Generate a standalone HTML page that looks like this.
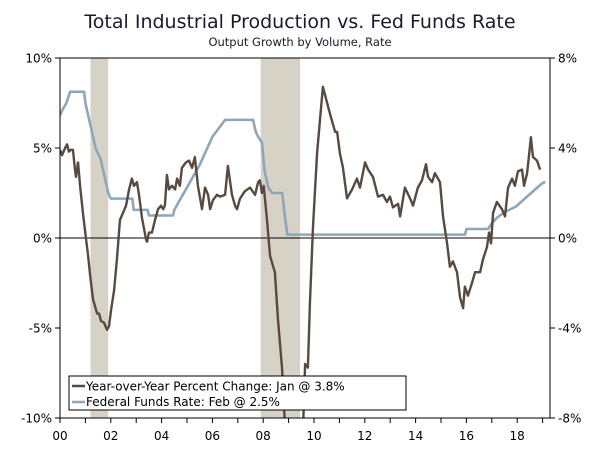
<!DOCTYPE html>
<html><head><meta charset="utf-8"><style>
body{margin:0;background:#fff;}
svg{display:block;font-family:"DejaVu Sans","Liberation Sans",sans-serif;}
</style></head><body>
<svg id="chart" width="600" height="453" viewBox="0 0 600 453">
<text x="300" y="28" text-anchor="middle" font-size="19" fill="#1a1a2e">Total Industrial Production vs. Fed Funds Rate</text>
<text x="300" y="46" text-anchor="middle" font-size="11.5" fill="#1a1a2e">Output Growth by Volume, Rate</text>
<g id="plot"></g>
</svg>
<script>
const recessions = [[2001.2, 2001.9], [2007.9, 2009.45]];
const ipYears = [2000.00,2000.08,2000.20,2000.28,2000.35,2000.43,2000.51,2000.59,2000.63,2000.71,2000.79,2000.91,2001.02,2001.10,2001.18,2001.30,2001.46,2001.54,2001.61,2001.73,2001.85,2001.93,2002.01,2002.13,2002.24,2002.36,2002.48,2002.60,2002.72,2002.83,2002.91,2003.03,2003.11,2003.23,2003.39,2003.43,2003.50,2003.62,2003.74,2003.86,2003.98,2004.06,2004.13,2004.21,2004.29,2004.41,2004.53,2004.61,2004.72,2004.80,2004.96,2005.08,2005.20,2005.31,2005.43,2005.59,2005.71,2005.83,2005.91,2006.02,2006.18,2006.30,2006.50,2006.61,2006.77,2006.89,2006.97,2007.09,2007.28,2007.48,2007.68,2007.80,2007.87,2007.95,2008.02,2008.15,2008.27,2008.46,2008.58,2008.74,2008.86,2009.06,2009.33,2009.57,2009.65,2009.76,2009.84,2009.96,2010.12,2010.35,2010.63,2010.83,2010.91,2011.02,2011.14,2011.30,2011.50,2011.69,2011.81,2012.01,2012.13,2012.32,2012.52,2012.72,2012.87,2012.99,2013.11,2013.31,2013.39,2013.58,2013.78,2013.90,2014.09,2014.25,2014.41,2014.49,2014.65,2014.76,2014.96,2015.08,2015.24,2015.35,2015.47,2015.63,2015.75,2015.87,2015.94,2016.06,2016.22,2016.34,2016.54,2016.65,2016.81,2016.89,2016.97,2017.05,2017.20,2017.40,2017.52,2017.64,2017.80,2017.91,2018.03,2018.19,2018.27,2018.39,2018.54,2018.62,2018.78,2018.90];
const ipValues = [4.9,4.6,5.0,5.2,4.8,4.9,4.9,3.8,3.4,4.2,2.9,1.3,0.0,-0.9,-2.0,-3.4,-4.2,-4.2,-4.6,-4.7,-5.1,-4.9,-4.0,-2.9,-1.2,1.0,1.4,1.8,2.7,3.3,2.9,3.1,2.4,1.1,-0.1,-0.2,0.3,0.3,1.0,1.6,1.8,1.6,1.8,3.5,2.7,2.9,2.7,3.3,2.9,3.9,4.2,4.3,3.9,4.5,2.9,1.6,2.8,2.4,1.6,2.1,2.4,2.3,2.4,4.0,2.4,1.8,1.6,2.2,2.6,2.8,2.4,3.1,3.2,2.5,2.9,1.0,-1.0,-1.9,-4.5,-7.2,-10.5,-12.5,-13.0,-10.5,-7.0,-7.2,-3.6,0.6,4.7,8.4,6.9,5.9,5.9,4.7,3.9,2.2,2.7,3.3,2.8,4.2,3.8,3.4,2.3,2.4,2.0,2.3,1.7,1.9,1.2,2.8,2.2,1.8,2.8,3.2,4.1,3.4,3.1,3.6,3.1,1.2,-0.3,-1.6,-1.3,-1.9,-3.3,-3.9,-2.7,-3.2,-2.5,-1.9,-1.9,-1.2,-0.5,0.3,-0.3,1.4,2.0,1.6,1.2,2.8,3.3,2.9,3.7,3.8,2.9,3.6,5.6,4.5,4.3,3.8];
const ffYears = [2000.0,2000.1,2000.25,2000.4,2000.95,2001.0,2001.1,2001.2,2001.3,2001.4,2001.5,2001.6,2001.7,2001.8,2001.9,2002.0,2002.85,2002.9,2003.45,2003.5,2004.45,2004.5,2005.0,2005.5,2006.0,2006.5,2007.6,2007.7,2007.8,2007.95,2008.05,2008.2,2008.35,2008.75,2008.85,2008.95,2015.95,2016.0,2016.85,2017.0,2017.2,2017.5,2017.95,2018.2,2018.45,2018.7,2018.95,2019.1];
const ffValues = [5.45,5.7,6.0,6.5,6.5,6.0,5.5,5.0,4.5,4.0,3.75,3.5,3.0,2.5,2.0,1.75,1.75,1.25,1.25,1.0,1.0,1.25,2.25,3.25,4.5,5.25,5.25,4.75,4.5,4.25,3.0,2.25,2.0,2.0,1.0,0.15,0.15,0.4,0.4,0.65,0.9,1.15,1.4,1.65,1.9,2.15,2.4,2.5];
const leftTicks = [10,5,0,-5,-10];
const leftTickLabels = ["10%","5%","0%","-5%","-10%"];
const rightTicks = [8,4,0,-4,-8];
const rightTickLabels = ["8%","4%","0%","-4%","-8%"];
const xLabelYears = [2000,2002,2004,2006,2008,2010,2012,2014,2016,2018];
const xLabels = ["00","02","04","06","08","10","12","14","16","18"];

const L=60,R=550,T=58,B=418;
const x = y => L + (y-2000)*25.4;
const yL = v => 238 - v*18;
const yR = v => 238 - v*22.5;
const NS="http://www.w3.org/2000/svg";
const g=document.getElementById('plot');
function mk(tag, attrs){const e=document.createElementNS(NS,tag);for(const k in attrs)e.setAttribute(k,attrs[k]);g.appendChild(e);return e;}

const clip=document.createElementNS(NS,'clipPath');clip.setAttribute('id','pc');
const cr=document.createElementNS(NS,'rect');cr.setAttribute('x',L);cr.setAttribute('y',T);cr.setAttribute('width',R-L);cr.setAttribute('height',B-T);clip.appendChild(cr);g.appendChild(clip);

recessions.forEach(r=>{
  const e=mk('rect',{x:x(r[0]),y:T,width:x(r[1])-x(r[0]),height:B-T,fill:'#d7d2c6'});
  
  
});
let zl=mk('line',{x1:L,x2:R,y1:yL(0),y2:yL(0),stroke:'#000','stroke-width':1});



let ffp=mk('polyline',{points:ffYears.map((y,i)=>x(y)+','+yR(ffValues[i])).join(' '),fill:'none',stroke:'#8ca7b9','stroke-width':2.6,'clip-path':'url(#pc)','stroke-linejoin':'round'});


let ipp=mk('polyline',{points:ipYears.map((y,i)=>x(y)+','+yL(ipValues[i])).join(' '),fill:'none',stroke:'#574a3e','stroke-width':2.4,'clip-path':'url(#pc)','stroke-linejoin':'round'});



// frame
let fr=mk('path',{d:`M${L},${T}H${R}M${L},${B}H${R}M${L},${T}V${B}M${R},${T}V${B}`,stroke:'#000','stroke-width':1,fill:'none'});


leftTicks.forEach((v,i)=>{
  mk('line',{x1:L-5,x2:L,y1:yL(v),y2:yL(v),stroke:'#000'});
  const t=mk('text',{x:L-8,y:yL(v)+4.5,'text-anchor':'end','font-size':12,fill:'#000'});t.textContent=leftTickLabels[i];
  
  
});
rightTicks.forEach((v,i)=>{
  mk('line',{x1:R,x2:R+5,y1:yR(v),y2:yR(v),stroke:'#000'});
  const t=mk('text',{x:R+8,y:yR(v)+4.5,'text-anchor':'start','font-size':12,fill:'#000'});t.textContent=rightTickLabels[i];
  
  
});
for(let yr=2000;yr<=2019;yr++){mk('line',{x1:x(yr),x2:x(yr),y1:B,y2:B+5,stroke:'#000'});}
xLabelYears.forEach((yr,i)=>{
  const t=mk('text',{x:x(yr),y:B+22,'text-anchor':'middle','font-size':12,fill:'#000'});t.textContent=xLabels[i];
  
  
});
// legend
let lb=mk('rect',{x:69,y:376,width:337,height:34,fill:'#fff',stroke:'#000','stroke-width':1});


mk('line',{x1:72,x2:85,y1:386,y2:386,stroke:'#574a3e','stroke-width':2.5});
mk('line',{x1:72,x2:85,y1:402,y2:402,stroke:'#8ca7b9','stroke-width':2.5});
let t1=mk('text',{x:86,y:390.5,'font-size':12,fill:'#000'});t1.textContent='Year-over-Year Percent Change: Jan @ 3.8%';


let t2=mk('text',{x:86,y:406,'font-size':12,fill:'#000'});t2.textContent='Federal Funds Rate: Feb @ 2.5%';


</script>
</body></html>
